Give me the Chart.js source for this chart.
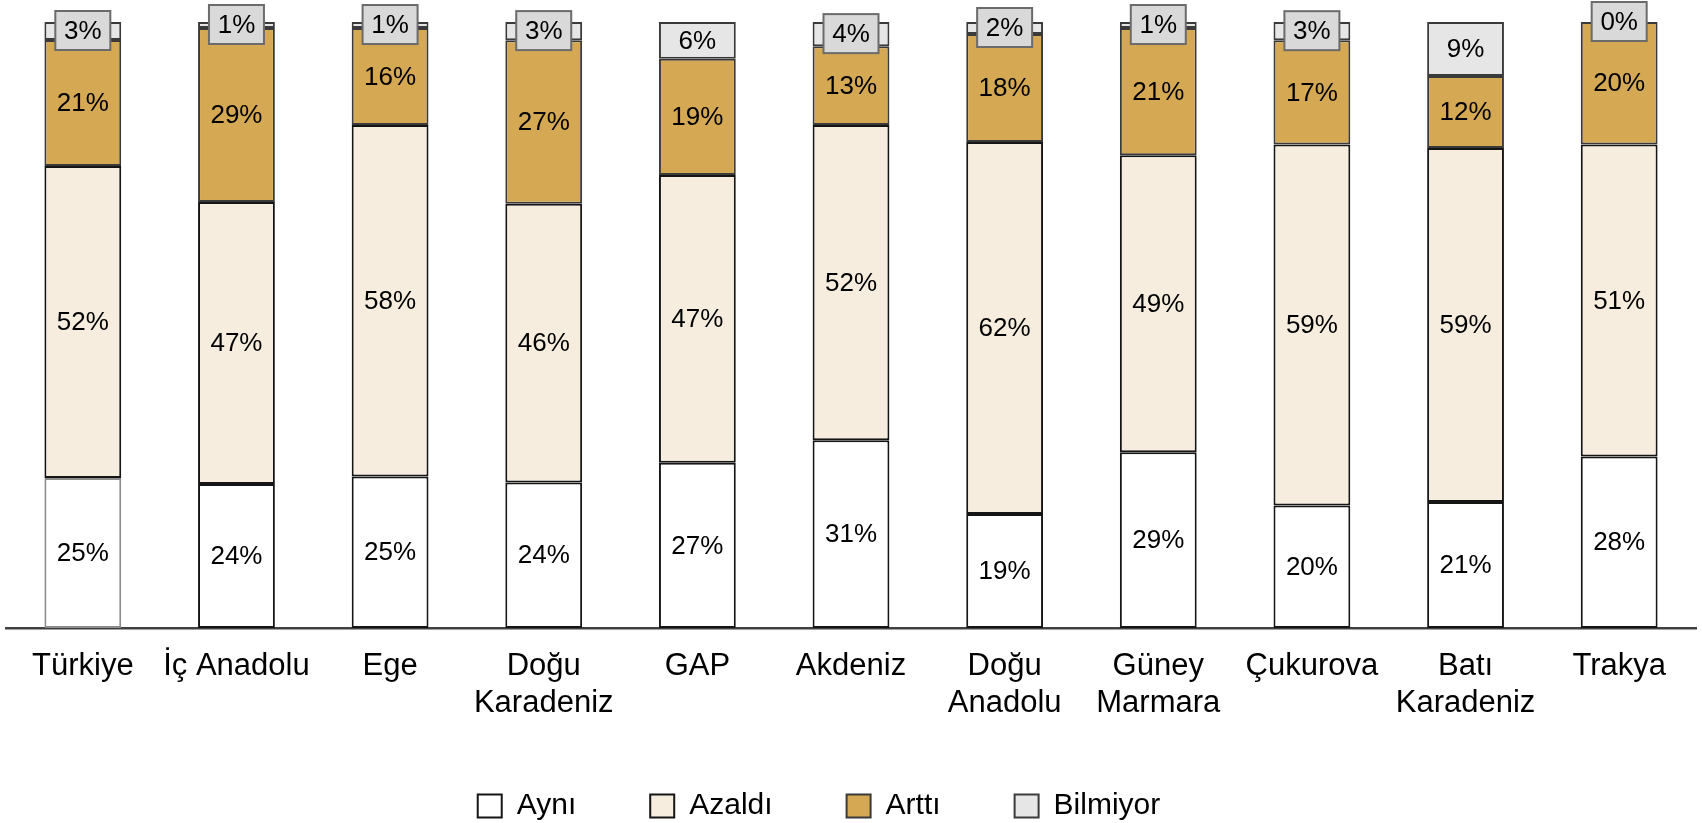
<!DOCTYPE html>
<html>
<head>
<meta charset="utf-8">
<script src="https://cdn.jsdelivr.net/npm/chart.js@4/dist/chart.umd.min.js"></script>
<style>
  body { margin: 0; background: #fff; }
  #chartContainer { width: 1702px; height: 823px; }
</style>
</head>
<body>
<div id="chartContainer"><canvas id="chart"></canvas></div>
<script>
//regions along the x axis
let regions = ['Türkiye', 'İç Anadolu', 'Ege', ['Doğu', 'Karadeniz'], 'GAP', 'Akdeniz', ['Doğu', 'Anadolu'], ['Güney', 'Marmara'], 'Çukurova', ['Batı', 'Karadeniz'], 'Trakya']

//percentages as printed on the bars
let ayni = [25, 24, 25, 24, 27, 31, 19, 29, 20, 21, 28]
let azaldi = [52, 47, 58, 46, 47, 52, 62, 49, 59, 59, 51]
let artti = [21, 29, 16, 27, 19, 13, 18, 21, 17, 12, 20]
let bilmiyor = [3, 1, 1, 3, 6, 4, 2, 1, 3, 9, 0]

let font = '"Liberation Sans", Arial, sans-serif'
let dark = '#3a3a3a'
let black = '#151515'

//each bar is drawn as a 100% stack, the printed (rounded) numbers stay as labels
function share(values, i){
    let total = ayni[i] + azaldi[i] + artti[i] + bilmiyor[i]
    return values[i] / total * 100
}

function makeSet(label, values, fill, border){
    return {
        label: label,
        raw: values,
        data: values.map((v, i) => share(values, i)),
        backgroundColor: fill,
        borderColor: border,
        borderWidth: 2,
        borderSkipped: false,
        barPercentage: 1,
        categoryPercentage: 0.5
    }
}

//writes the % inside every segment, small "Bilmiyor" values get a grey box
const segmentLabels = {
    id: 'segmentLabels',
    afterLayout(chart){
        //nudge the legend to where it sits in the original
        chart.legend.left -= 32
        chart.legend.right -= 32
        chart.legend.top -= 25
        chart.legend.bottom = chart.height
    },
    afterDatasetsDraw(chart){
        let ctx = chart.ctx
        ctx.save()
        ctx.font = `26px ${font}`
        ctx.textAlign = 'center'
        ctx.textBaseline = 'middle'
        chart.data.datasets.forEach((ds, di) => {
            chart.getDatasetMeta(di).data.forEach((bar, i) => {
                let v = ds.raw[i]
                let p = bar.getProps(['x', 'y', 'base'], true)
                let cy = (p.y + p.base) / 2
                if(di == 3 && v < 5){
                    ctx.fillStyle = '#d9d9d9'
                    ctx.strokeStyle = '#6b6b6b'
                    ctx.lineWidth = 2
                    ctx.fillRect(p.x - 27.5, cy - 20, 55, 39)
                    ctx.strokeRect(p.x - 27.5, cy - 20, 55, 39)
                }
                ctx.fillStyle = '#000'
                ctx.fillText(`${v}%`, p.x, cy + 1)
            })
        })
        ctx.restore()
    }
}

let data = {
    labels: regions,
    datasets: [
        makeSet('Aynı', ayni, '#ffffff', c => c.dataIndex === 0 ? '#8c8c8c' : black),
        makeSet('Azaldı', azaldi, '#f6eddf', black),
        makeSet('Arttı', artti, '#d5a854', dark),
        makeSet('Bilmiyor', bilmiyor, '#e6e6e6', dark)
    ]
}

const config = {
    type: 'bar',
    data: data,
    options: {
        responsive: true,
        maintainAspectRatio: false,
        animation: false,
        layout: {
            padding: { top: 22, left: 6, right: 6, bottom: 0 }
        },
        scales: {
            x: {
                stacked: true,
                grid: { display: false, drawTicks: false },
                border: { display: true, color: '#404040', width: 2.5 },
                ticks: {
                    color: '#000',
                    padding: 20,
                    maxRotation: 0,
                    autoSkip: false,
                    font: { family: font, size: 31, lineHeight: 37 / 31 }
                }
            },
            y: {
                stacked: true,
                display: false,
                min: 0,
                max: 100
            }
        },
        plugins: {
            tooltip: { enabled: false },
            legend: {
                position: 'bottom',
                maxHeight: 81,
                labels: {
                    color: '#000',
                    boxWidth: 24,
                    boxHeight: 23,
                    padding: 74,
                    font: { family: font, size: 30 },
                    //legend boxes all get the dark outline
                    generateLabels: chart => Chart.defaults.plugins.legend.labels.generateLabels(chart).map(item => {
                        item.strokeStyle = item.datasetIndex < 2 ? black : dark
                        item.lineWidth = 2
                        return item
                    })
                }
            }
        }
    },
    plugins: [segmentLabels]
}

new Chart(document.querySelector('#chart').getContext('2d'), config)
</script>
</body>
</html>
